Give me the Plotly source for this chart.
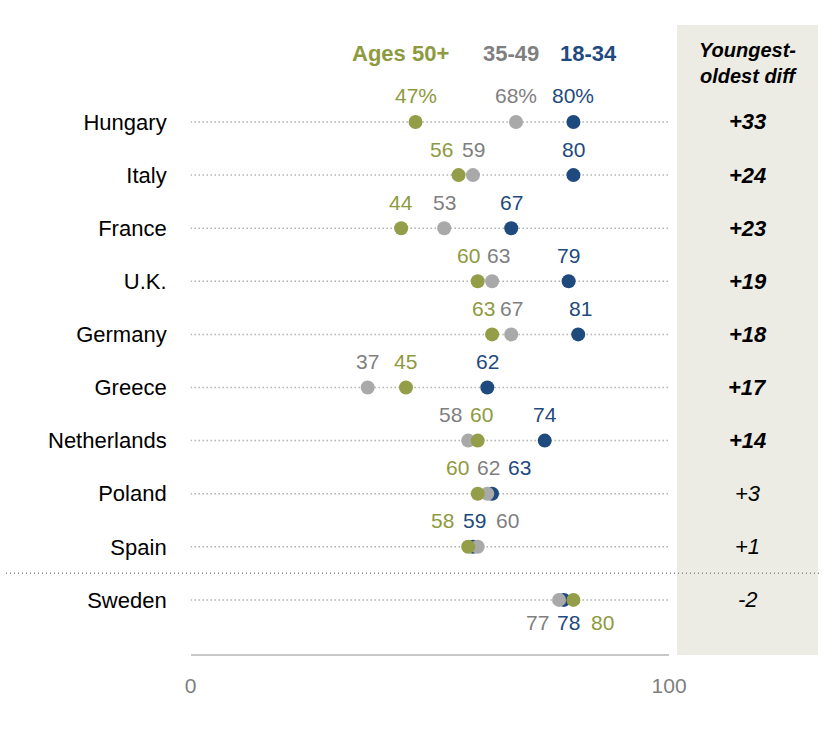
import plotly.graph_objects as go

countries = ['Hungary', 'Italy', 'France', 'U.K.', 'Germany', 'Greece',
             'Netherlands', 'Poland', 'Spain', 'Sweden']
ages_50_plus = [47, 56, 44, 60, 63, 45, 60, 60, 58, 80]
ages_35_49 = [68, 59, 53, 63, 67, 37, 58, 62, 60, 77]
ages_18_34 = [80, 80, 67, 79, 81, 62, 74, 63, 59, 78]
diff_labels = ['+33', '+24', '+23', '+19', '+18', '+17', '+14', '+3', '+1', '-2']
significant = [True, True, True, True, True, True, True, False, False, False]
tick_vals = [0, 100]

GREEN = '#949D48'
GRAY = '#A9A9A9'
BLUE = '#1F4A7D'
GREEN_TXT = '#8E9A40'
GRAY_TXT = '#7F7F7F'
BLUE_TXT = '#1F4A7D'
FONT = 'Liberation Sans, Arial, sans-serif'

W, H = 840, 734
PW = 822  # horizontal width the page actually gets drawn at

# pixel nudges for the value labels so close ones don't collide (green, gray, blue)
label_shift = {
    'Italy': (-17, 1, 0),
    'U.K.': (-9, 6, 0),
    'Germany': (-9, 0, 2),
    'Netherlands': (4, -18, 0),
    'Poland': (-20, 1, 27),
    'Spain': (-26, 30, 2),
    'Sweden': (29, -22, 5),
}

fig = go.Figure()

# dotted row lines
lx, ly = [], []
for c in countries:
    lx += [0, 100, None]
    ly += [c, c, None]
fig.add_trace(go.Scatter(x=lx, y=ly, mode='lines', hoverinfo='skip', showlegend=False,
                         line=dict(color='#8A8A8A', width=1.5, dash='1px,3px')))

for name, vals, col in [('18-34', ages_18_34, BLUE), ('35-49', ages_35_49, GRAY),
                        ('Ages 50+', ages_50_plus, GREEN)]:
    fig.add_trace(go.Scatter(x=vals, y=countries, mode='markers', name=name, showlegend=False,
                             marker=dict(color=col, size=14, line=dict(width=0))))

annotations = []
for i, c in enumerate(countries):
    sg, sy, sb = label_shift.get(c, (0, 0, 0))
    yshift = -23 if c == 'Sweden' else 26
    suffix = '%' if i == 0 else ''
    for v, col, s in [(ages_50_plus[i], GREEN_TXT, sg), (ages_35_49[i], GRAY_TXT, sy),
                      (ages_18_34[i], BLUE_TXT, sb)]:
        annotations.append(dict(x=v, y=c, xref='x', yref='y', text=f'{v}{suffix}',
                                showarrow=False, xshift=s, yshift=yshift,
                                xanchor='center', yanchor='middle',
                                font=dict(size=21, color=col, family=FONT)))
    txt = f'<b><i>{diff_labels[i]}</i></b>' if significant[i] else f'<i>{diff_labels[i]}</i>'
    annotations.append(dict(x=747 / PW, y=c, xref='paper', yref='y', text=txt, showarrow=False,
                            xanchor='center', yanchor='middle',
                            font=dict(size=22, color='black', family=FONT)))

annotations.append(dict(x=747 / PW, y=1 - 63 / H, xref='paper', yref='paper',
                        text='<b><i>Youngest-<br>oldest diff</i></b>', showarrow=False,
                        xanchor='center', yanchor='middle',
                        font=dict(size=20, color='black', family=FONT)))
for txt, xv, col in [('Ages 50+', 43.8, GREEN_TXT), ('35-49', 67, GRAY_TXT), ('18-34', 83.2, BLUE_TXT)]:
    annotations.append(dict(x=xv, y=1 - 53 / H, xref='x', yref='paper', text=f'<b>{txt}</b>',
                            showarrow=False, xanchor='center', yanchor='middle',
                            font=dict(size=22, color=col, family=FONT)))

shapes = [
    dict(type='rect', xref='paper', yref='paper', x0=676 / PW, x1=818 / PW,
         y0=1 - 655 / H, y1=1 - 25 / H, fillcolor='#EDECE4', line=dict(width=0), layer='below'),
    dict(type='line', xref='paper', yref='y', x0=0, x1=1, y0=8.5, y1=8.5,
         line=dict(color='#8A8A8A', width=1.5, dash='1px,3px')),
]

fig.update_layout(
    width=W, height=H, autosize=False,
    margin=dict(l=0, r=0, t=0, b=0),
    plot_bgcolor='white', paper_bgcolor='white',
    font=dict(family=FONT),
    annotations=annotations, shapes=shapes,
    xaxis=dict(domain=[186 / PW, 668 / PW], range=[0, 100], anchor='free', position=1 - 655 / H,
               showline=True, linecolor='#C8C8C8', linewidth=1.5, ticks='inside', ticklen=9,
               tickcolor='#C8C8C8', tickwidth=1.5, tickvals=tick_vals, showgrid=False,
               zeroline=False, ticklabelstandoff=12,
               tickfont=dict(size=21, color='#7F7F7F', family=FONT)),
    yaxis=dict(domain=[0, 1], type='category', categoryarray=countries,
               range=[11.525, -2.297], showgrid=False, zeroline=False, showline=False,
               ticks='', ticklabelstandoff=23, automargin=False,
               tickfont=dict(size=22, color='black', family=FONT)),
)

fig.write_html("out.html", config={'displayModeBar': False},
               post_script="document.body.style.margin='0';document.body.style.overflow='hidden';")
